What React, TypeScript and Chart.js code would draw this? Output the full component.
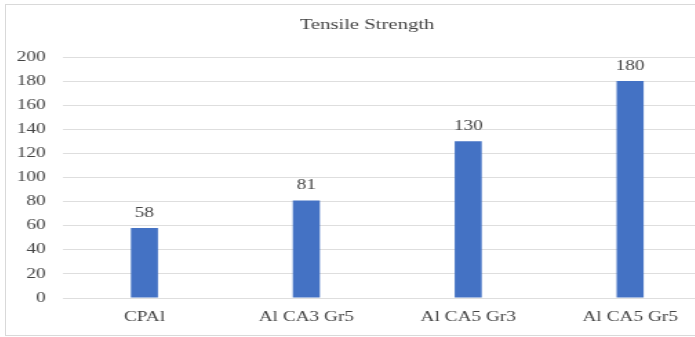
import React, { useEffect, useRef } from "react";
import { Chart, registerables } from "chart.js";

Chart.register(...registerables);

const categories = ["CPAl", "Al CA3 Gr5", "Al CA5 Gr3", "Al CA5 Gr5"];
const values = [58, 81, 130, 180];
const yTicks = [0, 20, 40, 60, 80, 100, 120, 140, 160, 180, 200];
const chartTitle = "Tensile Strength";

const FONT = "'Liberation Serif', 'Times New Roman', serif";
const TEXT = "#444444";
const GRID = "#dedede";
const BAR = "#4472C4";

const valueLabels = {
  id: "valueLabels",
  afterDatasetsDraw(chart: any) {
    const ctx = chart.ctx;
    const meta = chart.getDatasetMeta(0);
    ctx.save();
    ctx.font = `14px ${FONT}`;
    ctx.fillStyle = TEXT;
    ctx.textAlign = "center";
    ctx.textBaseline = "alphabetic";
    meta.data.forEach((bar: any, i: number) => {
      ctx.fillText(String(values[i]), bar.x, bar.y - 11);
    });
    ctx.restore();
  },
};

export default function App() {
  const ref = useRef<HTMLCanvasElement | null>(null);

  useEffect(() => {
    if (!ref.current) return;
    const chart = new Chart(ref.current, {
      type: "bar",
      data: {
        labels: categories,
        datasets: [
          {
            data: values,
            backgroundColor: BAR,
            borderWidth: 0,
            barPercentage: 0.167,
            categoryPercentage: 1,
          },
        ],
      },
      options: {
        responsive: false,
        animation: false,
        devicePixelRatio: 1,
        layout: { padding: 0 },
        plugins: {
          legend: { display: false },
          tooltip: { enabled: false },
          title: {
            display: true,
            text: chartTitle,
            color: TEXT,
            font: { family: FONT, size: 15, weight: "normal" },
            padding: { top: 12.5, bottom: 22.5 },
          },
        },
        scales: {
          x: {
            grid: { display: false, drawTicks: false },
            border: { display: false },
            ticks: {
              color: TEXT,
              font: { family: FONT, size: 14 },
              padding: 11,
              maxRotation: 0,
              autoSkip: false,
            },
            afterFit(scale: any) {
              scale.height = 37;
            },
          },
          y: {
            min: 0,
            max: 200,
            grid: { color: GRID, drawTicks: false, lineWidth: 1 },
            border: { display: false },
            afterBuildTicks(scale: any) {
              scale.ticks = yTicks.map((v) => ({ value: v }));
            },
            ticks: {
              color: TEXT,
              font: { family: FONT, size: 14 },
              padding: 13,
            },
            afterFit(scale: any) {
              scale.width = 42.4;
            },
          },
          yRight: {
            type: "linear",
            position: "right",
            display: true,
            min: 0,
            max: 200,
            grid: { display: false, drawTicks: false },
            border: { display: false },
            ticks: { display: false },
            afterFit(scale: any) {
              scale.width = 13;
            },
          },
        },
      },
      plugins: [valueLabels],
    });
    return () => chart.destroy();
  }, []);

  return (
    <div
      style={{
        position: "fixed",
        left: 0,
        top: 0,
        width: 695,
        height: 337,
        overflow: "hidden",
        background: "#ffffff",
      }}
    >
      <canvas
        ref={ref}
        width={525}
        height={331}
        style={{
          position: "absolute",
          left: 5,
          top: 4,
          width: "724px",
          height: "331px",
        }}
      />
      <div
        style={{
          position: "absolute",
          left: 5,
          top: 4,
          width: 730,
          height: 332,
          boxSizing: "border-box",
          border: "1px solid #d9d9d9",
          pointerEvents: "none",
        }}
      />
    </div>
  );
}
